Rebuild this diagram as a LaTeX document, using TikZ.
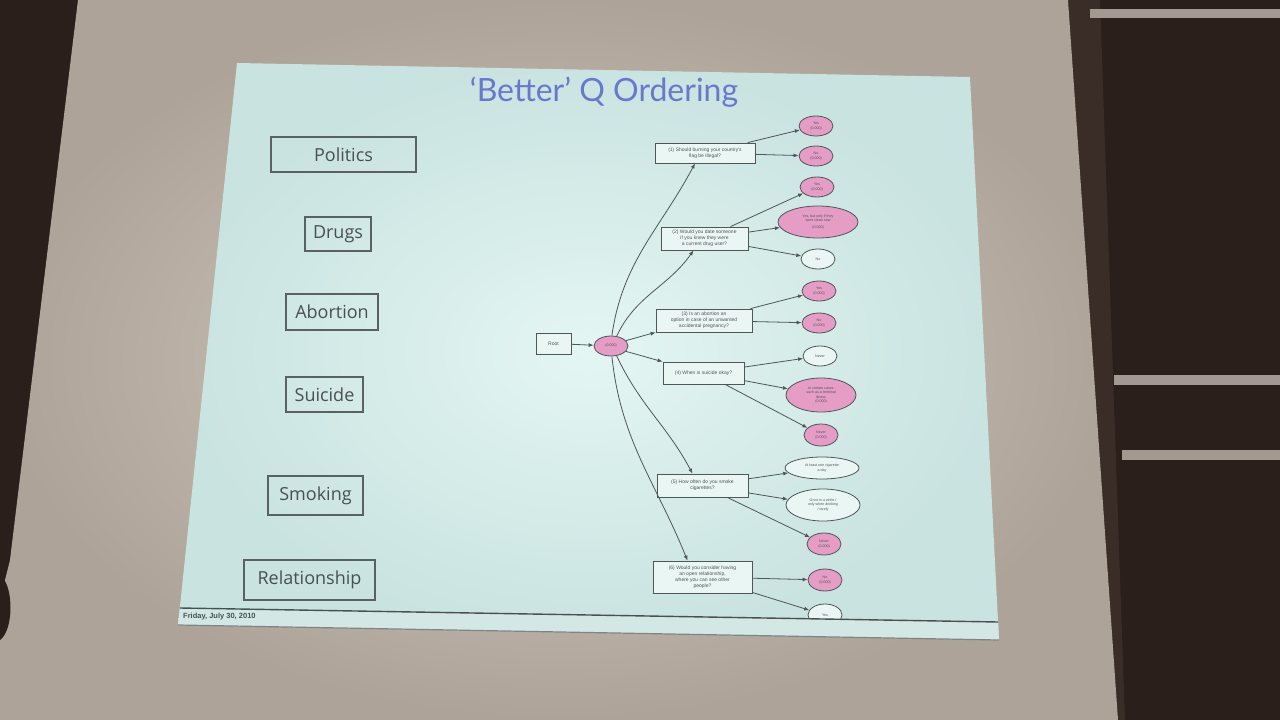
\documentclass[tikz,border=0pt]{standalone}
\usepackage{fontspec}
\setmainfont{Open Sans}
\newfontfamily\titlefont{Lato}
\newfontfamily\gvfont{Liberation Sans}
\usetikzlibrary{shapes.geometric,arrows.meta}
\definecolor{wall}{HTML}{2A1F1B}
\definecolor{wallmid}{HTML}{3A2C26}
\definecolor{bar}{HTML}{A39990}
\definecolor{screenin}{HTML}{D2CAC0}
\definecolor{screenout}{HTML}{ADA399}
\definecolor{slidein}{HTML}{E4F6F3}
\definecolor{slideout}{HTML}{C9E3E0}
\definecolor{footfill}{HTML}{D3E8E5}
\definecolor{lineg}{HTML}{4E5656}
\definecolor{labg}{HTML}{485050}
\definecolor{titleblue}{HTML}{6878CC}
\definecolor{pinkf}{HTML}{E59CC5}
\definecolor{whitef}{HTML}{EAF6F4}
\tikzset{
  catbox/.style={draw=labg!90, line width=1.6, text=labg, font=\fontsize{18}{20}\selectfont, inner sep=0},
  qbox/.style={draw=lineg, line width=0.8, fill=whitef, text=lineg, font=\gvfont\fontsize{5}{6}\selectfont, align=center, inner sep=1},
  leaf/.style={ellipse, draw=lineg, line width=0.8, text=lineg, font=\gvfont\fontsize{3.6}{4.3}\selectfont, align=center, inner sep=0},
  pinkleaf/.style={leaf, fill=pinkf},
  whiteleaf/.style={leaf, fill=whitef},
  edge/.style={draw=lineg, line width=0.8, -{Latex[length=5,width=4]}},
}
\begin{document}
\begin{tikzpicture}[x=1pt,y=-1pt]
\useasboundingbox (0,0) rectangle (1280,720);
% room
\fill[wall] (0,0) rectangle (1280,720);
\fill[wallmid] (1068,0) -- (1100,0) -- (1125,720) -- (1118,720) -- cycle;
% projection screen
\shade[inner color=screenin, outer color=screenout]
  (78,0) -- (1068,0) -- (1118,720) -- (0,720) -- (0,600) -- (10,560) -- cycle;
% shelves on the right wall
\fill[bar] (1090,9) rectangle (1280,18);
\fill[bar] (1114,375) rectangle (1280,385);
\fill[bar] (1122,450) rectangle (1280,460);
% head at the bottom left
\fill[wall] (0,575) .. controls (14,585) and (14,630) .. (0,640) -- cycle;
% slide
\shade[inner color=slidein, outer color=slideout]
  (237,63) -- (970,77) -- (999,640) -- (178,625) -- cycle;

% title
\node[text=titleblue, font=\titlefont\fontsize{32}{34}\selectfont] (title) at (604,92) {‘Better’ Q Ordering};

% category boxes
\node[catbox, minimum width=145, minimum height=35] (politics) at (343.5,154.5) {Politics};
\node[catbox, minimum width=66, minimum height=34] (drugs) at (338,234) {Drugs};
\node[catbox, minimum width=92, minimum height=36] (abortion) at (332,312) {Abortion};
\node[catbox, minimum width=77, minimum height=35] (suicide) at (324.5,394.5) {Suicide};
\node[catbox, minimum width=95, minimum height=39] (smoking) at (315.5,495.5) {Smoking};
\node[catbox, minimum width=131, minimum height=40] (relationship) at (309.5,580) {Relationship};

% tree
\node[qbox, minimum width=35, minimum height=21] (root) at (553.5,343.5) {Root};
\node[pinkleaf, minimum width=34, minimum height=20] (hub) at (611,346) {(0.000)};

\node[qbox, minimum width=100, minimum height=20] (q1) at (705,153) {(1) Should burning your country's\\flag be illegal?};
\node[qbox, minimum width=87, minimum height=23] (q2) at (704.5,238.5) {(2) Would you date someone\\if you knew they were\\a current drug user?};
\node[qbox, minimum width=96, minimum height=23] (q3) at (704,320.5) {(3) Is an abortion an\\option in case of an unwanted\\accidental pregnancy?};
\node[qbox, minimum width=81, minimum height=22] (q4) at (703.5,373) {(4) When is suicide okay?};
\node[qbox, minimum width=91, minimum height=23] (q5) at (702.5,485.5) {(5) How often do you smoke\\cigarettes?};
\node[qbox, minimum width=99, minimum height=32] (q6) at (702.5,577) {(6) Would you consider having\\an open relationship,\\where you can see other\\people?};

\node[pinkleaf, minimum width=34, minimum height=20] (e11) at (816,126) {Yes\\(0.000)};
\node[pinkleaf, minimum width=34, minimum height=20] (e12) at (816,156) {No\\(0.000)};
\node[pinkleaf, minimum width=34, minimum height=20] (e21) at (817,187) {Yes\\(0.000)};
\node[pinkleaf, minimum width=80, minimum height=32] (e22) at (818,222) {Yes, but only if they\\were clean now\\[2pt](0.000)};
\node[whiteleaf, minimum width=34, minimum height=20] (e23) at (818,259) {No};
\node[pinkleaf, minimum width=34, minimum height=20] (e31) at (819,291) {Yes\\(0.000)};
\node[pinkleaf, minimum width=34, minimum height=20] (e32) at (819,323) {No\\(0.000)};
\node[whiteleaf, minimum width=34, minimum height=20] (e41) at (820,356) {Never};
\node[pinkleaf, minimum width=70, minimum height=34] (e42) at (821,395) {In certain cases\\such as a terminal\\illness\\(0.000)};
\node[pinkleaf, minimum width=34, minimum height=22] (e43) at (821,435) {Never\\(0.000)};
\node[whiteleaf, minimum width=74, minimum height=22] (e51) at (822,468) {At least one cigarette\\a day};
\node[whiteleaf, minimum width=74, minimum height=32] (e52) at (823,505) {Once in a while /\\only when drinking\\/ rarely};
\node[pinkleaf, minimum width=34, minimum height=22] (e53) at (824,544) {Never\\(0.000)};
\node[pinkleaf, minimum width=34, minimum height=22] (e61) at (825,580) {No\\(0.000)};
\node[whiteleaf, minimum width=34, minimum height=22] (e62) at (825,615) {Yes};

% edges
\draw[edge] (root) -- (hub);
\draw[edge] (hub.85) to[out=82, in=242] ([xshift=-10]q1.south);
\draw[edge] (hub.60) to[out=65, in=235] ([xshift=-11]q2.south);
\draw[edge] (hub.20) to[out=15, in=195] (q3.south west);
\draw[edge] (hub.-20) to[out=-15, in=165] (q4.north west);
\draw[edge] (hub.-60) to[out=-65, in=118] ([xshift=-10]q5.north);
\draw[edge] (hub.-85) to[out=-84, in=112] ([xshift=-15]q6.north);

\draw[edge] (q1) -- (e11);
\draw[edge] (q1) -- (e12);
\draw[edge] (q2) -- (e21);
\draw[edge] (q2) -- (e22);
\draw[edge] (q2) -- (e23);
\draw[edge] (q3) -- (e31);
\draw[edge] (q3) -- (e32);
\draw[edge] (q4) -- (e41);
\draw[edge] (q4) -- (e42);
\draw[edge] (q4) -- (e43);
\draw[edge] (q5) -- (e51);
\draw[edge] (q5) -- (e52);
\draw[edge] (q5) -- (e53);
\draw[edge] (q6) -- (e61);
\draw[edge] (q6) -- (e62);

% footer
\fill[footfill] (180,608) -- (998,622) -- (999,640) -- (178,625) -- cycle;
\draw[labg, line width=1.4] (180,608) -- (998,622);
\draw[labg!70, line width=1.2] (178,625) -- (999,640);
\node[anchor=west, text=labg, font=\gvfont\bfseries\fontsize{7.5}{8}\selectfont, inner sep=0] (date) at (183,617) {Friday, July 30, 2010};
\end{tikzpicture}
\end{document}
